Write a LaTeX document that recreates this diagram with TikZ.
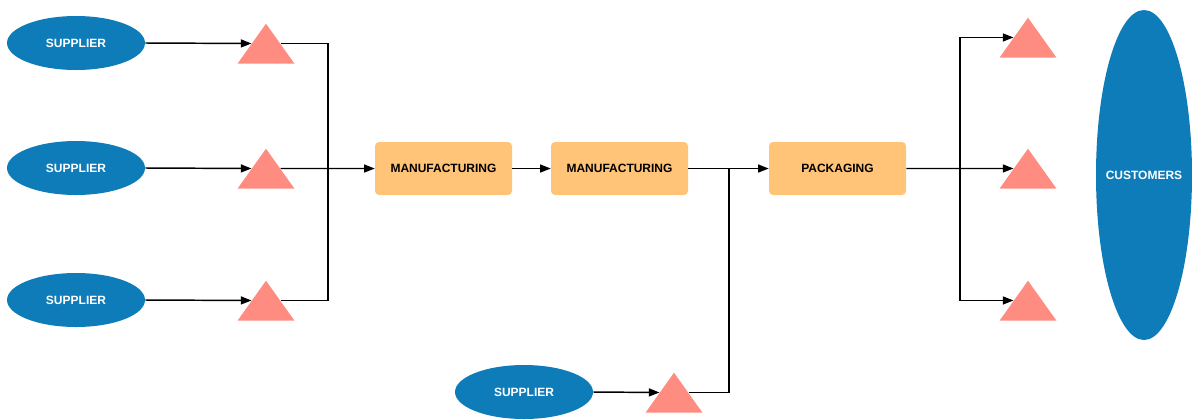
\documentclass[tikz,border=0pt]{standalone}
\usepackage{fontspec}
\setmainfont{Liberation Sans}
\usetikzlibrary{shapes.geometric,arrows.meta}
\definecolor{cblue}{HTML}{0F7CBA}
\definecolor{csalmon}{HTML}{FF8C80}
\definecolor{corange}{HTML}{FFC477}
\tikzset{
  ell/.style={ellipse,fill=cblue,text=white,font=\bfseries\fontsize{9}{10}\selectfont,inner sep=0pt},
  supp/.style={ell,minimum width=103.5pt,minimum height=40.5pt},
  proc/.style={rectangle,rounded corners=3pt,fill=corange,minimum width=102.75pt,minimum height=39.75pt,font=\bfseries\fontsize{9}{10}\selectfont,inner sep=0pt},
  tri/.style={isosceles triangle,isosceles triangle stretches,shape border rotate=90,fill=csalmon,minimum width=42.75pt,minimum height=30pt,inner sep=0pt,anchor=apex},
  conn/.style={line width=1.1pt,black},
  arr/.style={conn,-{Triangle[length=8pt,width=6pt]}}
}
\begin{document}
\begin{tikzpicture}[x=0.75pt,y=-0.75pt]
\useasboundingbox (0,0) rectangle (1192,419);
% suppliers
\node[supp] (s1) at (76,43) {SUPPLIER};
\node[supp] (s2) at (76,168) {SUPPLIER};
\node[supp] (s3) at (76,300) {SUPPLIER};
\node[supp] (s4) at (524,392) {SUPPLIER};
% triangles
\node[tri] (t1) at (266,23) {};
\node[tri] (t2) at (266,148) {};
\node[tri] (t3) at (266,280) {};
\node[tri] (t4) at (674,372) {};
\node[tri] (r1) at (1028,17) {};
\node[tri] (r2) at (1028,148) {};
\node[tri] (r3) at (1028,280) {};
% processes
\node[proc] (m1) at (443.5,168.5) {MANUFACTURING};
\node[proc] (m2) at (619.5,168.5) {MANUFACTURING};
\node[proc] (pk) at (837.5,168.5) {PACKAGING};
% customers
\node[ell,inner xsep=-4.5pt,minimum width=72pt,minimum height=247.5pt] (cu) at (1144,175) {CUSTOMERS};
% junctions
\coordinate (j1) at (328,168);
\coordinate (j3) at (729,168);
\coordinate (j2) at (960,168);
% connectors
\draw[arr] (s1.east) -- (t1.left side);
\draw[arr] (s2.east) -- (t2.left side);
\draw[arr] (s3.east) -- (t3.left side);
\draw[arr] (s4.east) -- (t4.left side);
\draw[conn] (t1.right side) -| (j1);
\draw[conn] (t3.right side) -| (j1);
\draw[arr] (t2.right side) -- (m1.west);
\draw[arr] (m1.east) -- (m2.west);
\draw[arr] (m2.east) -- (pk.west);
\draw[conn] (t4.right side) -| (j3);
\draw[arr] (pk.east) -- (r2.left side);
\draw[arr] (j2) |- (r1.left side);
\draw[arr] (j2) |- (r3.left side);
\end{tikzpicture}
\end{document}
